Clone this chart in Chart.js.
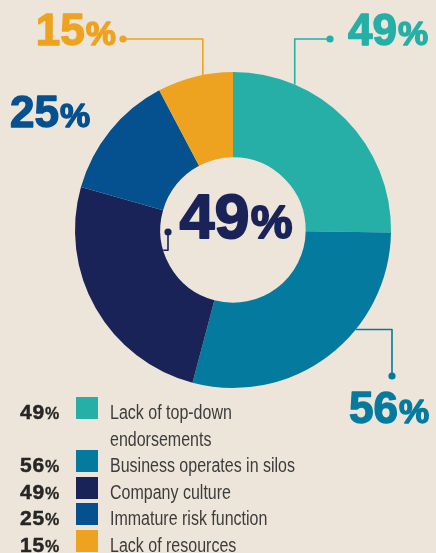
<!DOCTYPE html>
<html>
<head>
<meta charset="utf-8">
<script src="https://cdn.jsdelivr.net/npm/chart.js@4.4.1/dist/chart.umd.min.js"></script>
<style>
  html, body { margin: 0; padding: 0; background: #ede5d9; overflow: hidden; }
  #wrap { position: relative; width: 436px; height: 553px; }
  #chart { position: absolute; left: 0; top: 0; }
  #legend { position: absolute; left: 0; top: 399px; width: 436px; }
  .row { display: flex; }
  .num { width: 56px; margin-left: 20px; flex: none; color: #262626;
         font: bold 21px "Liberation Sans", Arial, sans-serif; line-height: 26.6px;
         letter-spacing: 0.8px; -webkit-text-stroke: 0.5px #262626; }
  .num small { font-size: 16px; line-height: 1; letter-spacing: 0; -webkit-text-stroke: 0.3px #262626; }
  .sw { width: 22px; height: 22px; margin-top: -2px; flex: none; }
  /* condensed look: squeeze the sans horizontally */
  .txt { margin-left: 12px; width: 240px; flex: none; color: #3c3c3c;
         font: 20px "Liberation Sans", Arial, sans-serif; line-height: 26.6px;
         transform: scaleX(0.8); transform-origin: 0 0; }
</style>
</head>
<body>
<div id="wrap">
  <canvas id="chart" width="436" height="553"></canvas>
  <div id="legend"></div>
</div>
<script>
const categories = ['Lack of top-down endorsements', 'Business operates in silos', 'Company culture', 'Immature risk function', 'Lack of resources'];
const values = [49, 56, 49, 25, 15];
const colors = ['#25afa7', '#047b9e', '#1a2357', '#05508f', '#eea320'];

// callout for each slice: where the leader leaves the ring (deg clockwise from top),
// the elbow/dot positions and where the big number goes
const callouts = [
  { angle: 23, ring: 'outer', first: 'v', to: [330, 39], text: [348, 45], align: 'left' },
  { angle: 129, ring: 'outer', first: 'h', to: [392, 376], text: [349, 423], align: 'left' },
  { angle: 253.8, ring: 'inner', first: 'h', to: [168, 232], text: null },
  { angle: null, text: [10, 127], align: 'left' },
  { angle: -11, ring: 'outer', first: 'v', to: [123, 39], text: [116, 45], align: 'right' }
];
const centerIndex = 2;

function drawPct(ctx, value, x, y, size, pctSize, color, align, stroke) {
  const num = String(value);
  ctx.font = `bold ${size}px "Liberation Sans", Arial, sans-serif`;
  const w1 = ctx.measureText(num).width;
  ctx.font = `bold ${pctSize}px "Liberation Sans", Arial, sans-serif`;
  const w2 = ctx.measureText('%').width;
  let sx = x;
  if (align === 'right') sx = x - w1 - w2 - 1;
  if (align === 'center') sx = x - (w1 + w2 + 1) / 2;
  ctx.fillStyle = color;
  ctx.strokeStyle = color;
  ctx.lineWidth = stroke;
  ctx.lineJoin = 'round';
  ctx.textBaseline = 'alphabetic';
  ctx.textAlign = 'left';
  ctx.font = `bold ${size}px "Liberation Sans", Arial, sans-serif`;
  ctx.fillText(num, sx, y);
  if (stroke) ctx.strokeText(num, sx, y);
  ctx.font = `bold ${pctSize}px "Liberation Sans", Arial, sans-serif`;
  ctx.fillText('%', sx + w1 + 1, y);
  if (stroke) ctx.strokeText('%', sx + w1 + 1, y);
}

const calloutPlugin = {
  id: 'callouts',
  afterDraw(chart) {
    const ctx = chart.ctx;
    const arcs = chart.getDatasetMeta(0).data;
    const cx = arcs[0].x, cy = arcs[0].y;
    const outer = arcs[0].outerRadius, inner = arcs[0].innerRadius;
    ctx.save();
    callouts.forEach((c, i) => {
      const col = colors[i];
      if (c.angle !== null) {
        const r = c.ring === 'outer' ? outer : inner;
        const a = c.angle * Math.PI / 180;
        const x0 = cx + r * Math.sin(a), y0 = cy - r * Math.cos(a);
        const [x2, y2] = c.to;
        const elbow = c.first === 'v' ? [x0, y2] : [x2, y0];
        ctx.strokeStyle = col;
        ctx.lineWidth = 1.6;
        ctx.beginPath();
        ctx.moveTo(x0, y0);
        ctx.lineTo(elbow[0], elbow[1]);
        ctx.lineTo(x2, y2);
        ctx.stroke();
        ctx.fillStyle = col;
        ctx.beginPath();
        ctx.arc(x2, y2, 3.6, 0, Math.PI * 2);
        ctx.fill();
      }
      if (c.text) drawPct(ctx, values[i], c.text[0], c.text[1], 44, 34, col, c.align, 1.4);
    });
    drawPct(ctx, values[centerIndex], cx + 3, cy + 8, 63, 47, colors[centerIndex], 'center', 1.8);
    ctx.restore();
  }
};

new Chart(document.getElementById('chart'), {
  type: 'doughnut',
  data: {
    labels: categories,
    datasets: [{
      data: values,
      backgroundColor: colors,
      borderWidth: 0,
      hoverOffset: 0
    }]
  },
  options: {
    responsive: false,
    animation: false,
    cutout: '46%',
    layout: { padding: { left: 75, right: 45, top: 72, bottom: 165 } },
    plugins: { legend: { display: false }, tooltip: { enabled: false } }
  },
  plugins: [calloutPlugin]
});

// legend rows under the ring
const legend = document.getElementById('legend');
categories.forEach((name, i) => {
  const row = document.createElement('div');
  row.className = 'row';
  row.innerHTML = `<span class="num">${values[i]}<small>%</small></span>` +
    `<span class="sw" style="background:${colors[i]}"></span>` +
    `<span class="txt">${name}</span>`;
  legend.appendChild(row);
});
</script>
</body>
</html>
